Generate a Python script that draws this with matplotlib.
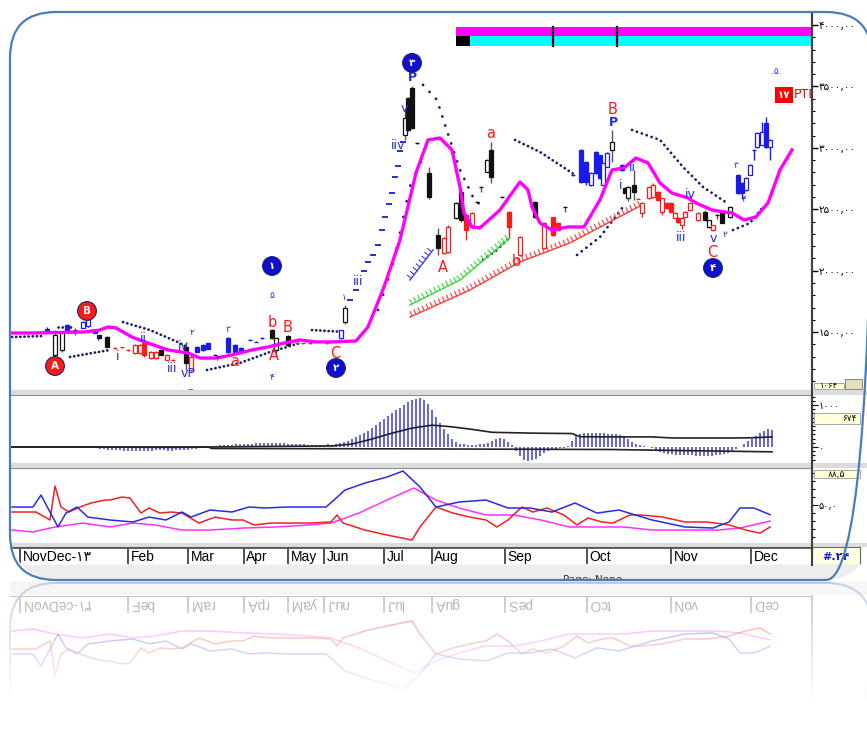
import numpy as np
import matplotlib
matplotlib.use("Agg")
import matplotlib.pyplot as plt
from matplotlib.patches import Rectangle, FancyBboxPatch, Polygon
from matplotlib.transforms import blended_transform_factory as blend
import matplotlib.patheffects as pe

plt.rcParams['font.family'] = ['DejaVu Sans']

W, H = 867, 748
FA = str.maketrans('0123456789', '۰۱۲۳۴۵۶۷۸۹')


def fa(s):
    return str(s).translate(FA)


def box(x0, y0, x1, y1):
    # figure pixel box -> add_axes rect
    return [x0 / W, 1 - y1 / H, (x1 - x0) / W, (y1 - y0) / H]


RED = '#ff1a1a'
BLUE = '#1f2fe0'
NAVY = '#1b1f6b'
MAG = '#ff00ff'

# ---------------- data (day index, price) ----------------
cdl_day = [8.75, 10.75, 12.5, 13.75, 15.75, 17.75, 19, 20.75, 21.75, 23.75,
           25.75, 27.5, 29, 30.75, 32, 33, 34.75, 36, 37.25, 38.75,
           40.25, 43.5, 44.75, 46.25, 47.75, 49, 50.75, 52.5, 54, 55.75,
           57.25, 59.5, 61, 62.5, 65, 66, 69, 71.25, 72.75, 74.5,
           78.75, 82.25, 83.25, 98.25, 99, 100, 101.25, 102, 104.25, 106.5,
           108, 109, 111, 112.25, 113.5, 115, 116.25, 117.25, 118.75, 119.75,
           122.5, 124.25, 127, 130.75, 133, 135.25, 136.5, 138.25, 140.25, 142.25,
           143.5, 144.75, 146, 147, 147.75, 148.75, 150, 152.5, 153.25, 154,
           155.5, 156.5, 157.5, 159.25, 160.25, 161.5, 162.5, 163.75, 164.75, 165.75,
           166.5, 167.5, 168.25, 169.5, 171.5, 173.25, 174.25, 175.25, 176.25, 177.5,
           179.5, 181.5, 182.5, 183.5, 184.5, 185.5, 186.25, 187.5, 188.5, 189.5]
cdl_open = [1525, 1315, 1355, 1560, 1520, 1535, 1550, 1515, 1475, 1460,
            1372, 1380, 1357, 1330, 1330, 1410, 1290, 1290, 1355, 1275,
            1275, 1380, 1190, 1380, 1395, 1410, 1316, 1300, 1450, 1395,
            1370, 1438, 1422, 1455, 1515, 1355, 1470, 1413, 1413, 1413,
            1413, 1450, 1585, 3105, 3405, 3490, 3042, 2888, 2795, 2290,
            2145, 2150, 2430, 2640, 2455, 2355, 2562, 2684, 2805, 2985,
            2603, 2480, 2130, 2560, 2185, 2435, 2385, 2522, 2782, 2985,
            2885, 2700, 2965, 2940, 2700, 2845, 2985, 2860, 2675, 2590,
            2700, 2587, 2470, 2590, 2600, 2640, 2480, 2550, 2550, 2430,
            2430, 2370, 2440, 2495, 2410, 2480, 2355, 2330, 2455, 2470,
            2435, 2780, 2715, 2655, 2780, 2986, 3005, 3025, 3200, 3005]
cdl_high = [1540, 1515, 1510, 1570, 1530, 1590, 1625, 1520, 1480, 1470,
            1375, 1383, 1360, 1400, 1400, 1420, 1345, 1345, 1360, 1320,
            1278, 1420, 1310, 1385, 1400, 1415, 1318, 1302, 1460, 1400,
            1375, 1440, 1424, 1457, 1525, 1460, 1475, 1415, 1415, 1415,
            1415, 1520, 1720, 3325, 3415, 3500, 3045, 2890, 2845, 2350,
            2275, 2370, 2560, 2660, 2460, 2480, 2565, 2690, 2910, 3050,
            2606, 2485, 2285, 2565, 2395, 2440, 2395, 2530, 2785, 2990,
            2890, 2800, 2975, 2945, 2880, 2965, 3145, 2865, 2680, 2690,
            2820, 2590, 2555, 2690, 2710, 2645, 2595, 2555, 2555, 2475,
            2435, 2435, 2485, 2560, 2475, 2490, 2415, 2375, 2460, 2480,
            2530, 2785, 2720, 2760, 2865, 2990, 3125, 3210, 3250, 3070]
cdl_low = [1505, 1290, 1340, 1510, 1480, 1530, 1545, 1490, 1445, 1375,
           1365, 1373, 1350, 1325, 1325, 1300, 1285, 1285, 1310, 1270,
           1268, 1190, 1180, 1335, 1350, 1360, 1310, 1294, 1330, 1335,
           1335, 1432, 1416, 1448, 1440, 1315, 1390, 1407, 1407, 1407,
           1407, 1445, 1570, 3065, 3140, 3150, 3030, 2878, 2580, 2130,
           2135, 2140, 2420, 2400, 2250, 2350, 2553, 2640, 2800, 2715,
           2594, 2275, 2120, 2430, 2180, 2285, 2325, 2480, 2773, 2715,
           2700, 2690, 2790, 2750, 2695, 2840, 2885, 2815, 2630, 2570,
           2575, 2580, 2440, 2585, 2595, 2570, 2450, 2505, 2475, 2425,
           2390, 2340, 2435, 2490, 2405, 2405, 2350, 2325, 2420, 2385,
           2430, 2625, 2580, 2650, 2775, 2900, 3000, 3020, 3000, 2900]
cdl_close = [1510, 1475, 1495, 1515, 1515, 1580, 1615, 1495, 1450, 1380,
             1368, 1376, 1353, 1395, 1395, 1315, 1340, 1340, 1315, 1315,
             1270, 1250, 1300, 1340, 1355, 1365, 1312, 1296, 1340, 1340,
             1340, 1434, 1418, 1450, 1450, 1450, 1395, 1409, 1409, 1409,
             1409, 1515, 1695, 3245, 3145, 3160, 3036, 2882, 2600, 2185,
             2265, 2355, 2550, 2415, 2330, 2470, 2556, 2678, 2900, 2765,
             2597, 2355, 2275, 2435, 2390, 2290, 2330, 2516, 2776, 2720,
             2720, 2795, 2795, 2755, 2875, 2960, 3050, 2820, 2635, 2680,
             2640, 2583, 2550, 2680, 2700, 2575, 2590, 2510, 2480, 2470,
             2395, 2430, 2480, 2550, 2470, 2410, 2410, 2370, 2450, 2390,
             2520, 2630, 2630, 2755, 2860, 2980, 3120, 3130, 3005, 3065]
cdl_col = list('bkkbkbbbkk' 'rrrrrrrrkr' 'rkrbbbkkbb' 'bbbbkkkrrr'
               'rbkkkkkkkk' 'rrkkrrkkkk' 'krrkrrrkbb' 'bbbbbbkbkk'
               'krrrrrrrrr' 'rrrrrkkrkk' 'kbbbbbbbbb')

# blue doji dashes along the summer rally
dash_day = [84.5, 86, 88, 89, 90.25, 91.5, 92.5, 93.25, 94.25, 95, 95.75, 96.5, 97, 97.75]
dash_val = [1765, 1845, 1995, 2070, 2130, 2210, 2330, 2440, 2545, 2630, 2765, 2850, 2970, 3050]

# moving average (magenta)
ma_day = [0, 5, 18, 22, 24, 26, 30, 34, 39, 44, 47, 51, 55, 60, 64, 68, 72, 76, 80, 86,
          89, 93, 97, 101, 104, 107, 110, 112, 113, 115, 117, 122, 125, 127, 129, 130,
          132, 135, 139, 143, 147, 150, 153, 156, 159, 162, 165, 169, 171, 175, 178,
          180, 183, 186, 189, 192, 195]
ma_val = [1493, 1493, 1501, 1517, 1542, 1534, 1460, 1411, 1355, 1330, 1289, 1289, 1314,
          1355, 1379, 1411, 1436, 1420, 1420, 1428, 1542, 1867, 2250, 2795, 3064, 3080,
          2983, 2681, 2470, 2356, 2348, 2494, 2632, 2722, 2657, 2519, 2388, 2331, 2356,
          2356, 2576, 2820, 2836, 2917, 2877, 2714, 2632, 2592, 2551, 2494, 2478, 2470,
          2413, 2437, 2551, 2820, 2983]

# parabolic stop dots, one list per run
sar_day = [[0, 7.75], [11.5, 15], [14.5, 24.5], [27.75, 34.5, 42, 43.75],
           [48.75, 57, 64.5, 72], [75, 83.25], [91.5, 95, 97, 99, 100.25],
           [102.75, 106.25, 109, 112, 115.25, 117], [117.75, 121.25, 124.5],
           [125.75, 132, 137, 140.75], [141.25, 147, 152.75],
           [155, 162, 167.75, 172.75, 178.75], [180.25, 184.5, 187.75]]
sar_val = [[1460, 1468], [1542, 1542], [1298, 1355], [1582, 1517, 1411, 1379],
           [1192, 1249, 1338, 1411], [1517, 1501], [1680, 2022, 2307, 2616, 2779],
           [3512, 3390, 3113, 2820, 2600, 2535], [2087, 2169, 2274],
           [3064, 2966, 2860, 2779], [2128, 2274, 2519],
           [3145, 3064, 2844, 2681, 2551], [2331, 2388, 2519]]

# ticked trend lines
tl_blue_day, tl_blue_val = [99.5, 105.25], [1924, 2169]
tl_green_day, tl_green_val = [99.5, 112, 124.5], [1721, 1924, 2266]
tl_red_day, tl_red_val = [99.5, 114.5, 127, 139.5, 157.5], [1623, 1843, 2071, 2226, 2535]

# wave labels
lbl_txt = ['۱', 'i', 'ii', 'iii', 'iv', '۲', 'vP', '–', 'a', '۳', '۲', '۵', 'b', 'B', 'A', '۴',
           'C', '۱', 'iii', 'P', 'v', 'iiv', 'a', 'A', 'b', 'B', 'P', 'i', 'ii', 'iii',
           'iv', 'v', 'C', '۲', '۳', '۴', '.۵.']
lbl_day = [21.5, 26.5, 32.75, 40, 42.75, 45, 44, 44.5, 55.75, 54, 51.5, 65, 65, 69, 65.5, 65,
           80.75, 83, 86.5, 100, 98, 96.5, 119.75, 107.75, 126, 150.25, 150.25, 152.25, 155,
           167.25, 169.5, 175.25, 175, 178.25, 181, 183, 191]
lbl_val = [1452, 1298, 1452, 1208, 1380, 1500, 1165, 1036, 1257, 1520, 1289, 1802, 1582, 1534,
           1306, 1127, 1330, 1778, 1908, 3569, 3324, 3015, 3113, 2022, 2071, 3308, 3202, 2690,
           2836, 2274, 2624, 2266, 2144, 2291, 2852, 2576, 3617]
lbl_col = list('bbbbbbbrrbbbrrrbrbbbbbrrrrbbbbbbrbbbb')

circ_txt = ['A', 'B', '۱', '۲', '۳', '۴']
circ_day = [10.75, 18.75, 65, 81, 100, 175.25]
circ_val = [1224, 1672, 2038, 1208, 3691, 2022]
circ_col = [RED, RED, '#1010d0', '#1010d0', '#1010d0', '#1010d0']

band_start = 111
band_marks = [135.25, 151.25]

# oscillator (middle panel): histogram per day + two lines
hist_val = [0, 0, 0, 0, 0, 0, 5, 5, 10, 10,
            10, 5, 5, 10, 15, 15, 10, 5, 0, 0,
            -10, -25, -40, -50, -60, -70, -75, -80, -85, -85,
            -90, -90, -90, -85, -85, -85, -80, -80, -80, -85,
            -85, -80, -70, -65, -60, -50, -40, -30, -15, 0,
            20, 30, 40, 45, 50, 55, 60, 65, 70, 75,
            80, 90, 95, 100, 100, 100, 95, 90, 85, 80,
            75, 70, 65, 60, 55, 50, 45, 45, 50, 60,
            50, 70, 90, 120, 150, 190, 230, 280, 330, 390,
            450, 520, 590, 660, 730, 800, 870, 940, 1000, 1060,
            1110, 1150, 1160, 1120, 1020, 880, 720, 560, 420, 300,
            200, 120, 80, 60, 50, 40, 50, 60, 70, 90,
            150, 200, 220, 190, 120, 40, -100, -220, -300, -330,
            -320, -280, -220, -150, -90, -60, -40, -30, -20, 20,
            150, 260, 310, 330, 335, 340, 340, 335, 330, 320,
            310, 300, 290, 260, 200, 130, 80, 50, 25, 10,
            -30, -70, -110, -140, -160, -170, -180, -185, -190, -195,
            -200, -205, -210, -210, -210, -205, -200, -190, -170, -140,
            -100, -50, 0, 70, 140, 200, 270, 340, 390, 420,
            400]
hist_day = list(range(len(hist_val)))
sig_day = [0, 20, 40, 60, 80, 85, 90, 95, 100, 105, 110, 115, 120, 130, 140, 142, 150,
           160, 165, 170, 180, 185, 190]
sig_val = [0, 0, -10, 10, 25, 70, 190, 330, 450, 520, 480, 420, 350, 330, 320, 245, 240,
           240, 215, 214, 214, 220, 240]
base_day = [0, 49, 50, 100, 150, 160, 190]
base_val = [0, 0, -35, -45, -60, -75, -115]

# lower panel, three oscillator lines
blue_day = [0, 5.25, 7.25, 9.5, 11.5, 13.5, 16.25, 19, 24.5, 30.25, 34.25, 38.5, 42.5,
            44.75, 49.5, 55, 59.25, 63.25, 68.75, 74.25, 78.5, 80.5, 83.25, 88.25, 93.75,
            97.75, 102, 106, 111.75, 118.5, 124, 129.5, 135, 140.75, 146.25, 151.75, 160,
            168.25, 175.25, 179.25, 182, 185.5, 189.5]
blue_val = [47.5, 47.5, 62.4, 41.3, 22.7, 40, 47.5, 35, 31.4, 28.9, 35, 31.4, 41.3, 35,
            43.8, 41.3, 47.5, 46.3, 47.5, 47.5, 47.5, 56.2, 68.6, 77.3, 84.8, 92.2, 72.4,
            47.5, 53.7, 56.2, 46.3, 46.3, 41.3, 52.5, 40, 43.8, 31.4, 22.7, 21.4, 28.9,
            46.3, 46.3, 38]
red_day = [0, 6, 9.5, 10.75, 12.25, 14.25, 17, 19.75, 23.25, 24.5, 27.5, 29.5, 32.25,
           34.25, 37, 39.75, 42.5, 46.75, 50.75, 55, 57.75, 60.5, 64.75, 68.75, 74.25,
           79.75, 81.25, 82.75, 88.25, 93.75, 100, 102, 106, 110.25, 114.5, 118.5, 121.25,
           124, 127.5, 130.25, 133.75, 138, 141.25, 144, 147.5, 150.25, 154.5, 157.25,
           162.75, 168.25, 173.75, 179.25, 183.5, 187, 189.5]
red_val = [41.3, 41.3, 31.4, 73.6, 47.5, 41.3, 47.5, 52.5, 56.2, 56.2, 59.9, 58.7, 40,
           46.3, 40, 41.3, 40, 27.6, 35, 31.4, 31.4, 25.2, 27.6, 27.6, 27.6, 28.9, 37.6,
           27.6, 18.9, 12.7, 6.5, 22.7, 47.5, 40, 35, 31.4, 22.7, 31.4, 47.5, 41.3, 46.3,
           37.6, 25.2, 33.9, 28.9, 27.6, 37.6, 37.6, 35, 28.9, 28.9, 25.2, 18.9, 15, 22.7]
mag_day = [0, 5.25, 10.75, 17.75, 24.5, 30.25, 35.75, 42.5, 49.5, 57.75, 66, 74.25,
           79.75, 86.75, 93.75, 100.5, 106, 111.75, 118.5, 125.5, 132.25, 139.25, 146.25,
           153, 160, 168.25, 176.5, 182, 186, 189.5]
mag_val = [18.9, 16.5, 22.7, 27.6, 22.7, 27.6, 25.2, 18.9, 18.9, 21.4, 22.7, 25.2, 27.6,
           40, 56.2, 71.1, 56.2, 46.3, 37.6, 37.6, 31.4, 22.7, 22.7, 22.7, 18.9, 18.9,
           18.9, 21.4, 26, 30]

month_txt = ['NovDec-۱۳', 'Feb', 'Mar', 'Apr', 'May', 'Jun', 'Jul', 'Aug', 'Sep', 'Oct',
             'Nov', 'Dec']
month_day = [2, 29, 44, 58, 69, 78, 93, 105, 123.25, 143.75, 164.75, 184.75]

COL = {'k': '#111111', 'r': RED, 'b': '#1a1af0'}
XL = (-0.5, 200)
YL = (1029, 4089)

fig = plt.figure(figsize=(W / 100, H / 100), dpi=100)
fig.patch.set_facecolor('white')

# ---------------- price panel ----------------
ax = fig.add_axes(box(10, 14, 812, 390))
ax.set_xlim(*XL)
ax.set_ylim(*YL)
px_day = 802 / (XL[1] - XL[0])
px_val = 376 / (YL[1] - YL[0])
for dd, vv in zip(sar_day, sar_val):
    # roughly one dot per bar
    step = np.hypot(px_day, abs(vv[-1] - vv[0]) / (dd[-1] - dd[0]) * px_val)
    lw = 2.0
    gap = max(step * 0.72 / lw, 1.3)
    ax.plot(dd, vv, color=NAVY, lw=lw, ls=(0, (0.05, gap)), dash_capstyle='round', zorder=2)
tick = [pe.withTickedStroke(angle=90, spacing=3.2, length=1.1, linewidth=0.8)]
ax.plot(tl_red_day, tl_red_val, color='#ff3b3b', lw=1, path_effects=tick, zorder=2)
ax.plot(tl_green_day, tl_green_val, color='#33dd33', lw=1, path_effects=tick, zorder=2)
ax.plot(tl_blue_day, tl_blue_val, color='#4040e0', lw=1, path_effects=tick, zorder=2)

for d, o, h, l, c, k in zip(cdl_day, cdl_open, cdl_high, cdl_low, cdl_close, cdl_col):
    col = COL[k]
    ax.vlines(d, l, h, color=col if k != 'k' else '#555555', lw=1, zorder=3)
    lo, hi = min(o, c), max(o, c)
    ax.add_patch(Rectangle((d - 0.6, lo), 1.2, hi - lo, lw=0.9, ec=col,
                           fc=col if c < o else 'white', zorder=4))
ax.plot(dash_day, dash_val, ls='none', marker='_', ms=5, mew=1.4, color=BLUE, zorder=4)
ax.plot(ma_day, ma_val, color=MAG, lw=2.4, zorder=5, solid_joinstyle='round')

for t, d, v, k in zip(lbl_txt, lbl_day, lbl_val, lbl_col):
    if k == 'r':
        ax.text(d, v, t, color=RED, fontsize=10.5 if t != '–' else 8, ha='center',
                va='center', zorder=7)
    else:
        big = t[0] in 'ivP'
        ax.text(d, v, t, color=BLUE, fontsize=9 if big else 6.5,
                fontweight='bold' if t == 'P' else 'normal', ha='center', va='center', zorder=7)
for t, d, v, c in zip(circ_txt, circ_day, circ_val, circ_col):
    ax.text(d, v, t, color='white', fontsize=7.5, fontweight='bold', ha='center', va='center',
            zorder=8, bbox=dict(boxstyle='circle,pad=0.42', fc=c, ec='#202060', lw=0.8))

tb = blend(ax.transData, ax.transAxes)
ax.add_patch(Rectangle((band_start, 0.9415), XL[1] - band_start, 0.025, transform=tb,
                       fc=MAG, ec='none', zorder=6))
ax.add_patch(Rectangle((band_start, 0.915), XL[1] - band_start, 0.0265, transform=tb,
                       fc='#00ffff', ec='none', zorder=6))
ax.add_patch(Rectangle((band_start, 0.915), 3.5, 0.0265, transform=tb, fc='black', zorder=6))
for m in band_marks:
    ax.plot([m, m], [0.915, 0.9665], transform=tb, color='black', lw=1.6, zorder=7)
ax.text(193, 3430, '۱۷', color='white', fontsize=7.5, fontweight='bold', ha='center',
        va='center', zorder=8, bbox=dict(boxstyle='square,pad=0.25', fc='#ff0000', ec='none'))
ax.text(195.4, 3430, 'PTE', color='#ff0000', fontsize=9, ha='left', va='center', zorder=8,
        clip_on=True)

ax.yaxis.tick_right()
ax.set_yticks([1500, 2000, 2500, 3000, 3500, 4000])
ax.set_yticklabels([fa(f'{v},00') for v in [1500, 2000, 2500, 3000, 3500, 4000]], fontsize=7.5)
ax.set_yticks(np.arange(1100, 4100, 100), minor=True)
ax.tick_params(axis='y', which='major', length=4, width=1, pad=1)
ax.tick_params(axis='y', which='minor', length=2, width=0.8)
ax.set_xticks([])
ty = blend(ax.transAxes, ax.transData)
ax.add_patch(Rectangle((1.002, 1035), 0.038, 55, transform=ty, fc='#ffffd8', ec='#999999',
                       lw=0.6, clip_on=False, zorder=6))
ax.text(1.021, 1062, fa('1064'), transform=ty, fontsize=6, ha='center', va='center',
        zorder=9, clip_on=False)
ax.add_patch(Rectangle((1.041, 1040), 0.021, 80, transform=ty, fc='#e6e0b8', ec='#777777',
                       lw=0.6, clip_on=False, zorder=6))

# ---------------- middle oscillator ----------------
ax2 = fig.add_axes(box(10, 395, 812, 463))
ax2.set_xlim(*XL)
ax2.set_ylim(-381, 1238)
ax2.vlines(hist_day, 0, hist_val, color='#3a3ad8', lw=1.1)
ax2.plot(base_day, base_val, color='#222222', lw=1.2)
ax2.plot(sig_day, sig_val, color='#222222', lw=1.2)
ax2.yaxis.tick_right()
ax2.set_yticks([0, 1000])
ax2.set_yticklabels([fa('0'), fa('1000')], fontsize=7)
ax2.set_yticks(np.arange(-300, 1250, 100), minor=True)
ax2.tick_params(axis='y', which='major', length=4, pad=1)
ax2.tick_params(axis='y', which='minor', length=2, width=0.8)
ax2.set_xticks([])
ty2 = blend(ax2.transAxes, ax2.transData)
ax2.add_patch(Rectangle((1.002, 540), 0.058, 270, transform=ty2, fc='#ffffd8', ec='#999999',
                        lw=0.6, clip_on=False, zorder=6))
ax2.text(1.055, 674, fa('674'), transform=ty2, fontsize=6.5, ha='right', va='center',
         zorder=9, clip_on=False)

# ---------------- lower oscillator ----------------
ax3 = fig.add_axes(box(10, 468, 812, 543))
ax3.set_xlim(*XL)
ax3.set_ylim(2.8, 96)
ax3.plot(mag_day, mag_val, color='#ff30ff', lw=1.1)
ax3.plot(red_day, red_val, color='#ee2222', lw=1.1)
ax3.plot(blue_day, blue_val, color='#2a2ae0', lw=1.1)
ax3.yaxis.tick_right()
ax3.set_yticks([50])
ax3.set_yticklabels([fa('50,0')], fontsize=7)
ax3.set_yticks(np.arange(10, 96, 10), minor=True)
ax3.tick_params(axis='y', which='major', length=4, pad=1)
ax3.tick_params(axis='y', which='minor', length=2, width=0.8)
ax3.set_xticks([])
ty3 = blend(ax3.transAxes, ax3.transData)
ax3.add_patch(Rectangle((1.002, 83), 0.058, 11, transform=ty3, fc='#ffffd8', ec='#999999',
                        lw=0.6, clip_on=False, zorder=6))
ax3.text(1.031, 88.5, fa('88,5'), transform=ty3, fontsize=6.5, ha='center', va='center',
         zorder=9, clip_on=False)

for a in (ax, ax2, ax3):
    a.spines['left'].set_visible(False)
    a.spines['top'].set_color('#8a8a8a')
    a.spines['bottom'].set_color('#8a8a8a')
    a.spines['right'].set_color('#404040')
    a.spines['right'].set_linewidth(1.5)
ax.spines['top'].set_visible(False)

# ---------------- date strip ----------------
axd = fig.add_axes(box(10, 547, 812, 565))
axd.set_xlim(*XL)
axd.set_ylim(0, 1)
axd.set_xticks([])
axd.set_yticks([])
for s in ('left', 'right'):
    axd.spines[s].set_visible(False)
axd.spines['top'].set_linewidth(2)
axd.spines['top'].set_color('#555555')
axd.spines['bottom'].set_color('#666666')
for t, d in zip(month_txt, month_day):
    axd.vlines(d, 0.05, 0.95, color='#333333', lw=1.2)
    axd.text(d + 0.6, 0.45, t, fontsize=10, ha='left', va='center',
             family=['Liberation Sans', 'DejaVu Sans'])
axr = fig.add_axes(box(812, 547, 860, 565))
axr.set_facecolor('#ffffe4')
axr.set_xticks([])
axr.set_yticks([])
for s in axr.spines.values():
    s.set_color('#666666')
axr.text(0.5, 0.45, '#.' + fa('24'), color='#1010e0', fontsize=8, fontweight='bold',
         ha='center', va='center')

axs = fig.add_axes(box(10, 565, 867, 580))
axs.set_facecolor('#ededed')
axs.set_xticks([])
axs.set_yticks([])
for s in axs.spines.values():
    s.set_visible(False)
axs.text(0.645, 0.35, 'Page: None', fontsize=7.5, ha='left', va='top', color='#333333',
         clip_on=True)

# ---------------- reflection ----------------
rd = fig.add_axes(box(10, 596, 812, 614))
rd.set_xlim(*XL)
rd.set_ylim(1, 0)
rd.axis('off')
for t, d in zip(month_txt, month_day):
    rd.vlines(d, 0.05, 0.95, color='#999999', lw=1.1)
    rd.text(d + 0.6, 0.45, t[::-1], fontsize=10, ha='left', va='center', rotation=180,
            color='#8a8a8a', family=['Liberation Sans', 'DejaVu Sans'])
rd.axhline(0.02, color='#aaaaaa', lw=1.5)
rr = fig.add_axes(box(10, 618, 812, 693))
rr.set_xlim(*XL)
rr.set_ylim(96, 2.8)
rr.axis('off')
rr.plot(mag_day, mag_val, color='#ff30ff', lw=1.1, alpha=0.6)
rr.plot(red_day, red_val, color='#ee2222', lw=1.1, alpha=0.6)
rr.plot(blue_day, blue_val, color='#2a2ae0', lw=1.1, alpha=0.6)

# ---------------- frame overlay ----------------
ov = fig.add_axes([0, 0, 1, 1], zorder=10)
ov.set_facecolor('none')
ov.axis('off')
for y0, y1 in [(390, 395), (463, 468), (543, 547)]:
    ov.add_patch(Rectangle((10, y0), 857, y1 - y0, fc='#dcdcdc', ec='none'))
ov.plot([812, 812], [14, 565], color='#404040', lw=1.5)
ov.plot([812, 812], [596, 700], color='#aaaaaa', lw=1.2)
ov.add_patch(Rectangle((10, 581), 857, 14, fc='#f3f3f3', ec='none'))
r = 46
t = np.linspace(0, np.pi / 2, 30)
ov.add_patch(Polygon([(0, 534)] + list(zip(10 + r - r * np.cos(t), 534 + r * np.sin(t)))
                     + [(10 + r, 582), (0, 582)], fc='white', ec='none'))
ov.add_patch(Polygon([(867, 534)] + list(zip(826 + r * np.cos(t), 534 + r * np.sin(t)))
                     + [(826, 582), (867, 582)], fc='white', ec='none'))
ov.add_patch(FancyBboxPatch((10, 12), 862, 568, boxstyle='round,pad=0,rounding_size=46',
                            fc='none', ec='#4a7ebb', lw=1.6))
ov.add_patch(FancyBboxPatch((10, 583), 862, 160, boxstyle='round,pad=0,rounding_size=46',
                            fc='none', ec='#aac3e3', lw=1.4))
N = 200
grad = np.ones((N, 1, 4))
grad[:, 0, 3] = np.clip(np.linspace(0.25, 1.3, N), 0, 1)
ov.imshow(grad, extent=(0, 867, 748, 583), aspect='auto', origin='upper', zorder=20)
ov.set_xlim(0, 867)
ov.set_ylim(748, 0)

fig.savefig('out.png', dpi=100, facecolor='white')
